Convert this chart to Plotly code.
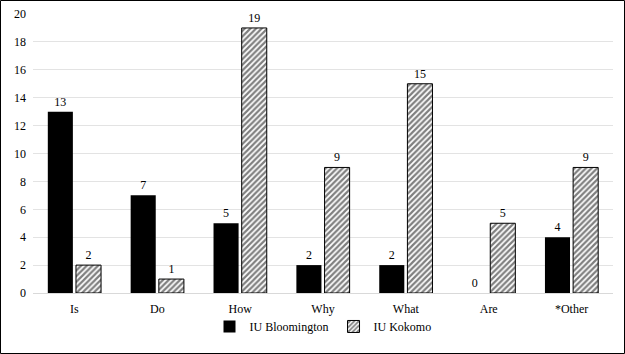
import plotly.graph_objects as go

categories = ["Is", "Do", "How", "Why", "What", "Are", "*Other"]
bloomington = [13, 7, 5, 2, 2, 0, 4]
kokomo = [2, 1, 19, 9, 15, 5, 9]
y_ticks = [0, 2, 4, 6, 8, 10, 12, 14, 16, 18, 20]

FONT = "Liberation Serif, Times New Roman, serif"

fig = go.Figure()
fig.add_trace(go.Bar(
    x=categories, y=bloomington, name="IU Bloomington",
    marker=dict(color="black", line=dict(color="black", width=0)),
    text=bloomington, textposition="outside", cliponaxis=False,
    textfont=dict(family=FONT, size=12, color="black"),
))
fig.add_trace(go.Bar(
    x=categories, y=kokomo, name="IU Kokomo",
    marker=dict(color="white", line=dict(color="black", width=1),
                pattern=dict(shape="/", fgcolor="black", bgcolor="white", size=4, solidity=0.55)),
    text=kokomo, textposition="outside", cliponaxis=False,
    textfont=dict(family=FONT, size=12, color="black"),
))

L, R, T, B = 33, 12, 14, 61
W, H = 625, 354
pw, ph = W - L - R, H - T - B

fig.update_layout(
    width=W, height=H,
    margin=dict(l=L, r=R, t=T, b=B, autoexpand=False),
    paper_bgcolor="white", plot_bgcolor="white",
    font=dict(family=FONT, size=12, color="black"),
    barmode="group", bargap=0.32, bargroupgap=0.11,
    showlegend=True,
    legend=dict(orientation="h", x=0.5, xanchor="center", y=-0.12, yanchor="middle",
                bgcolor="rgba(0,0,0,0)",
                font=dict(family=FONT, size=12, color="black"),
                tracegroupgap=0),
    xaxis=dict(showgrid=False, showline=True, linecolor="#d9d9d9", linewidth=1,
               ticks="", tickfont=dict(family=FONT, size=12, color="black"),
               ticklabelstandoff=5, automargin=False),
    yaxis=dict(range=[0, 20], tickvals=y_ticks, showgrid=True, gridcolor="#e3e3e3",
               gridwidth=1, zeroline=False, showline=False, ticks="",
               tickfont=dict(family=FONT, size=12, color="black"),
               ticklabelstandoff=6, automargin=False),
    shapes=[dict(type="rect", xref="paper", yref="paper",
                 x0=(0.5 - L) / pw, x1=(W - 0.5 - L) / pw,
                 y0=(T + ph - (H - 0.5)) / ph, y1=(T + ph - 0.5) / ph,
                 line=dict(color="black", width=1), layer="above")],
)

fig.write_html("out.html")
